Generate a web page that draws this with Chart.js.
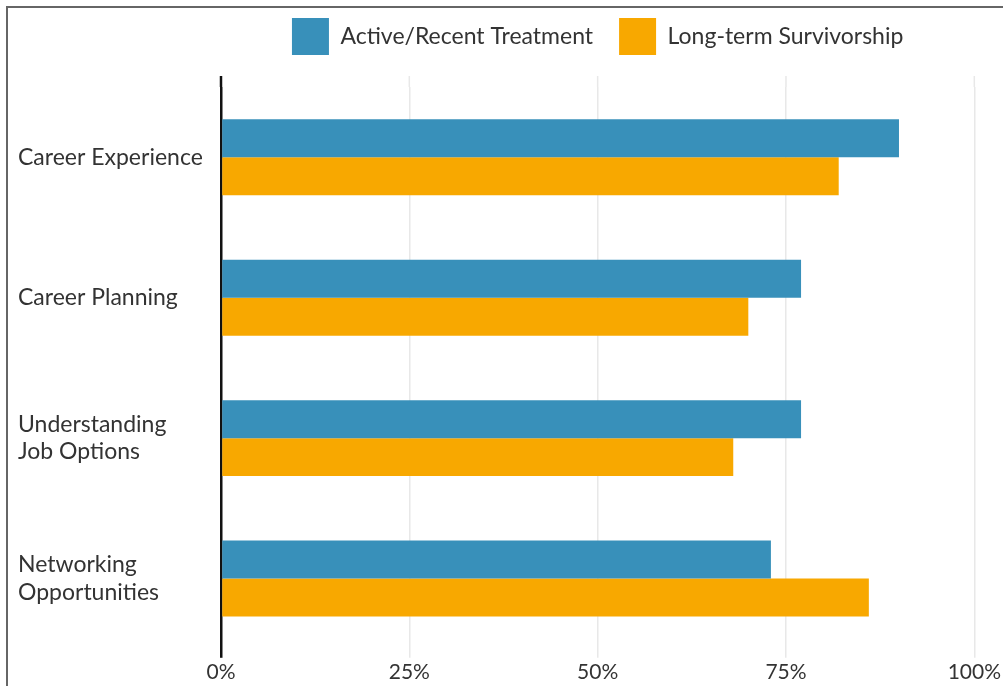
<!DOCTYPE html>
<html>
<head>
<meta charset="utf-8">
<script src="https://cdn.jsdelivr.net/npm/chart.js@4/dist/chart.umd.min.js"></script>
<style>
  html, body { margin: 0; padding: 0; background: #fff; overflow: hidden; }
  #wrap { position: relative; width: 1003px; height: 686px; }
  #frame { position: absolute; left: 6px; top: 6px; width: 1100px; height: 800px;
           border-left: 2px solid #666; border-top: 2px solid #666; }
  #myChart { position: absolute; left: 0; top: 0; }
</style>
</head>
<body>
<div id="wrap">
  <div id="frame"></div>
  <canvas id="myChart" width="1003" height="686"></canvas>
</div>
<script>
var categorias = [
  'Career Experience',
  'Career Planning',
  ['Understanding', 'Job Options'],
  ['Networking', 'Opportunities']
];
var activa = [90, 77, 77, 73];
var largoPlazo = [82, 70, 68, 86];
var label1 = 'Active/Recent Treatment';
var label2 = 'Long-term Survivorship';
var color1 = '#3890ba';
var color2 = '#f8a800';
var ticksX = [0, 25, 50, 75, 100];

Chart.defaults.font.family = 'Lato';
Chart.defaults.color = '#333';

// las lineas de la rejilla suben un poco por encima del area
var extenderRejilla = {
  id: 'extenderRejilla',
  beforeDatasetsDraw: function (chart) {
    var x = chart.scales.x;
    var ctx = chart.ctx;
    var top = chart.chartArea.top;
    ctx.save();
    ticksX.forEach(function (v) {
      var px = x.getPixelForValue(v);
      ctx.beginPath();
      ctx.strokeStyle = v === 0 ? '#111' : '#e8e8e8';
      ctx.lineWidth = v === 0 ? 2.5 : 1.5;
      ctx.moveTo(px, top - 11);
      ctx.lineTo(px, top);
      ctx.stroke();
    });
    ctx.restore();
  }
};

var ctx = document.getElementById('myChart').getContext('2d');
var myChart = new Chart(ctx, {
  type: 'bar',
  data: {
    labels: categorias,
    datasets: [
      {
        label: label1,
        data: activa,
        backgroundColor: color1,
        borderWidth: 0
      }, {
        label: label2,
        data: largoPlazo,
        backgroundColor: color2,
        borderWidth: 0
      }
    ]
  },
  options: {
    indexAxis: 'y',
    responsive: false,
    animation: false,
    categoryPercentage: 0.541,
    barPercentage: 1,
    layout: {
      padding: { left: 18, right: 25, top: -8, bottom: -1 }
    },
    plugins: {
      tooltip: { enabled: false },
      legend: {
        position: 'top',
        fullSize: false,
        labels: {
          boxWidth: 37,
          boxHeight: 37,
          padding: 26,
          color: '#333',
          font: { size: 23 }
        }
      }
    },
    scales: {
      x: {
        min: 0,
        max: 100,
        afterBuildTicks: function (s) {
          s.ticks = ticksX.map(function (v) { return { value: v }; });
        },
        border: { display: false },
        grid: {
          color: function (c) { return c.tick && c.tick.value === 0 ? '#111' : '#e8e8e8'; },
          lineWidth: function (c) { return c.tick && c.tick.value === 0 ? 2.5 : 1.5; },
          tickLength: 9
        },
        ticks: {
          padding: 2,
          color: '#333',
          font: { size: 21 },
          maxRotation: 0,
          callback: function (v) { return v + '%'; }
        }
      },
      x2: {
        type: 'linear',
        position: 'top',
        display: true,
        grid: { display: false },
        border: { display: false },
        ticks: { display: false },
        afterFit: function (s) { s.height = 22; }
      },
      y: {
        grid: { display: false },
        border: { display: false },
        afterFit: function (s) { s.width = 203; },
        ticks: {
          crossAlign: 'far',
          color: '#333',
          font: { size: 23, lineHeight: 1.18 }
        }
      }
    }
  },
  plugins: [extenderRejilla]
});
</script>
</body>
</html>
